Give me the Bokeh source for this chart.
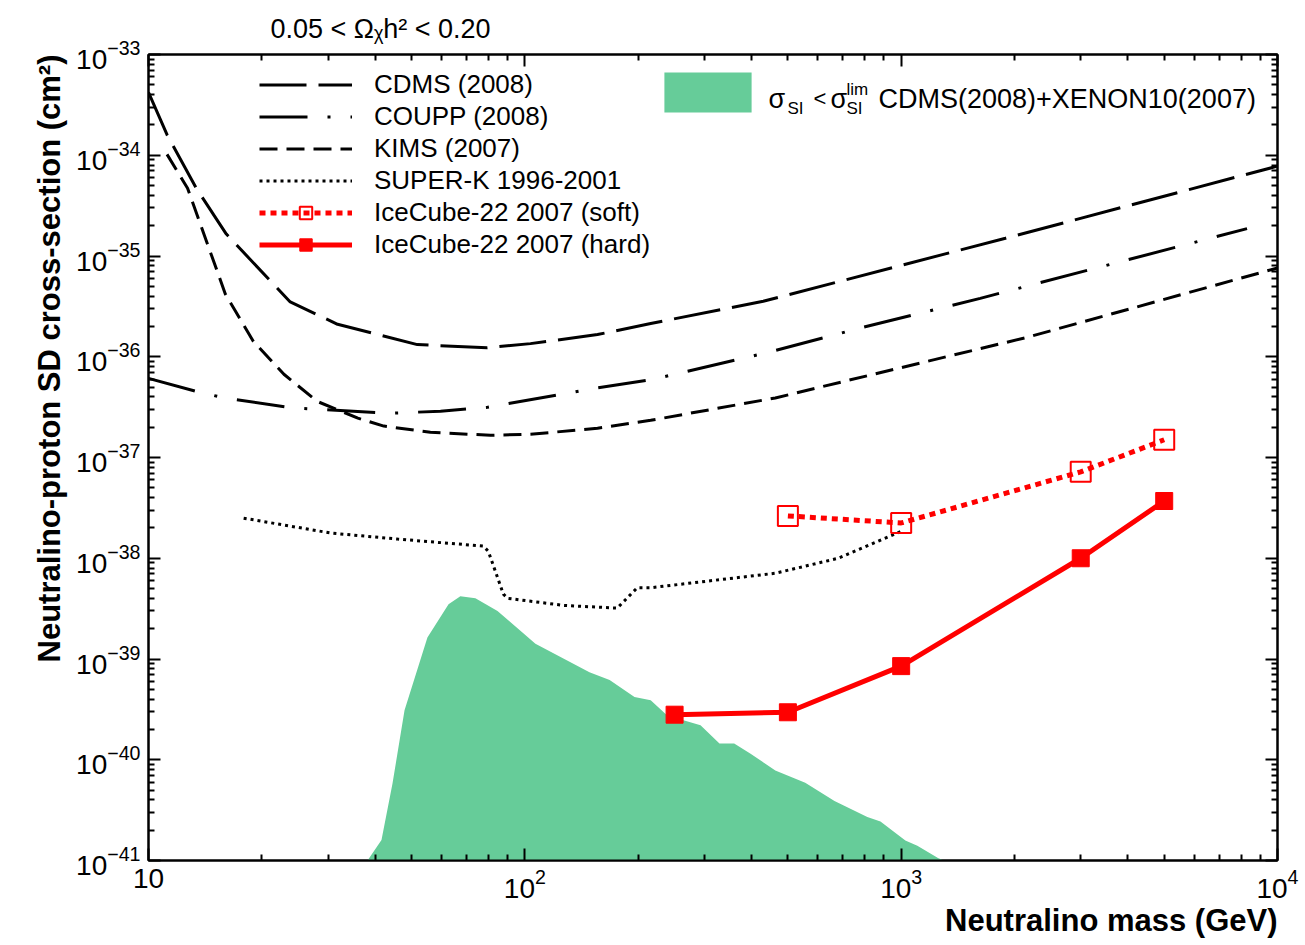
import numpy as np
from bokeh.plotting import figure
from bokeh.models import (LogAxis, FixedTicker, LogTickFormatter, CustomJSTickFormatter,
                          Legend, LegendItem, Label, Range1d, Title)
from bokeh.embed import file_html
from bokeh.resources import INLINE

# ---------------- data ----------------
cdms_mass = [10, 11.2, 13.4, 16.1, 23.8, 31.8, 51.8, 79.4, 103.5, 156, 216, 430, 1893, 10000]
cdms_sigma = [4.2e-34, 1.6e-34, 4.7e-35, 1.65e-35, 3.5e-36, 2.1e-36, 1.32e-36, 1.23e-36,
              1.35e-36, 1.66e-36, 2.14e-36, 3.55e-36, 1.5e-35, 7.8e-35]

coupp_mass = [10, 13.5, 15.9, 24.3, 44, 59.7, 79.6, 156, 216, 441, 775, 1622, 8300]
coupp_sigma = [6.1e-37, 4.5e-37, 3.9e-37, 3.1e-37, 2.75e-37, 2.88e-37, 3.15e-37, 4.9e-37,
               5.9e-37, 1.1e-36, 1.92e-36, 3.8e-36, 1.87e-35]

kims_mass = [11.2, 12.7, 16.0, 19.0, 22.9, 28.1, 36.0, 42.2, 56.1, 81, 103.5, 156, 216, 463,
             1000, 2148, 10000]
kims_sigma = [1.02e-34, 4.7e-35, 4.2e-36, 1.42e-36, 6.7e-37, 3.6e-37, 2.46e-37, 2.05e-37,
              1.78e-37, 1.66e-37, 1.7e-37, 1.95e-37, 2.34e-37, 3.9e-37, 7.8e-37, 1.55e-36, 7.6e-36]

superk_mass = [17.9, 30.5, 45.9, 77.6, 80, 87.7, 90, 127, 176, 199, 216, 463, 681, 1000]
superk_sigma = [2.5e-38, 1.78e-38, 1.55e-38, 1.32e-38, 1.17e-38, 4.4e-39, 4.0e-39, 3.4e-39,
                3.2e-39, 5.1e-39, 5.1e-39, 7.1e-39, 1.0e-38, 1.85e-38]

ic_soft_mass = [500, 1000, 3000, 5000]
ic_soft_sigma = [2.63e-38, 2.24e-38, 7.2e-38, 1.5e-37]

ic_hard_mass = [250, 500, 1000, 3000, 5000]
ic_hard_sigma = [2.8e-40, 2.96e-40, 8.5e-40, 1.0e-38, 3.7e-38]

si_mass = [38.2, 41.6, 44.5, 47.9, 55.1, 62.7, 67.4, 73.9, 84.6, 106.7, 148.5, 168, 195.6, 216,
           239, 293, 329, 360, 398, 463, 556, 665, 813, 881, 1026, 1104, 1256, 1300]
si_sigma = [1e-41, 1.6e-41, 5.8e-41, 3.1e-40, 1.63e-39, 3.5e-39, 4.2e-39, 4.0e-39, 3.0e-39,
            1.42e-39, 7.4e-40, 6.2e-40, 4.2e-40, 3.9e-40, 2.75e-40, 2.2e-40, 1.45e-40, 1.45e-40,
            1.15e-40, 7.8e-41, 5.9e-41, 3.9e-41, 2.7e-41, 2.44e-41, 1.58e-41, 1.4e-41, 1.05e-41, 1e-41]

x_tick_exps = [1, 2, 3, 4]
y_tick_exps = [-41, -40, -39, -38, -37, -36, -35, -34, -33]

legend_labels = ["CDMS (2008)", "COUPP (2008)", "KIMS (2007)", "SUPER-K 1996-2001",
                 "IceCube-22 2007 (soft)", "IceCube-22 2007 (hard)"]
title_text = "0.05 < Ωᵪh² < 0.20"
x_title = "Neutralino mass (GeV)"
y_title = "Neutralino-proton SD cross-section (cm²)"

FONT = "Liberation Sans"
GREEN = "#66CC99"
RED = "#FF0000"

x_major = [10.0 ** e for e in x_tick_exps]
x_minor = [k * 10.0 ** e for e in x_tick_exps[:-1] for k in range(2, 10)]
y_major = [10.0 ** e for e in y_tick_exps]
y_minor = [k * 10.0 ** e for e in y_tick_exps[:-1] for k in range(2, 10)]

p = figure(width=1305, height=945, x_axis_type="log", y_axis_type="log",
           x_range=Range1d(x_major[0], x_major[-1]), y_range=Range1d(y_major[0], y_major[-1]),
           output_backend="svg", toolbar_location=None,
           min_border_left=148, min_border_right=28, min_border_top=53, min_border_bottom=85,
           background_fill_color="white", border_fill_color="white", title=None)
p.grid.visible = False
p.outline_line_color = "black"
p.outline_line_width = 2


def style_axis(ax):
    ax.axis_line_width = 2
    ax.axis_line_color = "black"
    ax.major_tick_in = 12
    ax.major_tick_out = 0
    ax.minor_tick_in = 6
    ax.minor_tick_out = 0
    ax.major_tick_line_width = 2
    ax.minor_tick_line_width = 2
    ax.major_label_text_font = FONT
    ax.major_label_text_font_size = "28px"
    ax.major_label_text_color = "black"


xax = p.xaxis[0]
xax.ticker = FixedTicker(ticks=x_major, minor_ticks=x_minor)
xax.formatter = LogTickFormatter(min_exponent=1)
xax.major_label_overrides = {10: "10"}
xax.major_label_standoff = 8
style_axis(xax)

yax = p.yaxis[0]
yax.ticker = FixedTicker(ticks=y_major, minor_ticks=y_minor)
yax.formatter = LogTickFormatter()
yax.major_label_standoff = 8
style_axis(yax)

blank = CustomJSTickFormatter(code="return ''")
top_ax = LogAxis(ticker=FixedTicker(ticks=x_major, minor_ticks=x_minor), formatter=blank)
right_ax = LogAxis(ticker=FixedTicker(ticks=y_major, minor_ticks=y_minor), formatter=blank)
for ax in (top_ax, right_ax):
    style_axis(ax)
    ax.major_label_standoff = 0
    ax.major_label_text_font_size = "1px"
p.add_layout(top_ax, "above")
p.add_layout(right_ax, "right")

# titles (plot title and the two axis titles)
p.add_layout(Title(text=title_text, align="left", offset=122, standoff=22,
                   text_font=FONT, text_font_size="27px", text_font_style="normal",
                   text_color="black"), "above")
p.add_layout(Title(text=x_title, align="right", standoff=0,
                   text_font=FONT, text_font_size="31px", text_font_style="bold",
                   text_color="black"), "below")
p.add_layout(Title(text=y_title, align="right", standoff=14,
                   text_font=FONT, text_font_size="31px", text_font_style="bold",
                   text_color="black"), "left")

# ---------------- glyphs ----------------
r_si = p.varea(x=si_mass, y1=[1e-45] * len(si_mass), y2=si_sigma, fill_color=GREEN)

r_cdms = p.line(cdms_mass, cdms_sigma, line_color="black", line_width=3, line_dash="47 12")
r_coupp = p.line(coupp_mass, coupp_sigma, line_color="black", line_width=3, line_dash="48 20 3 20")
r_kims = p.line(kims_mass, kims_sigma, line_color="black", line_width=3, line_dash="18 9")
r_superk = p.line(superk_mass, superk_sigma, line_color="black", line_width=3, line_dash="3 4")

r_soft_l = p.line(ic_soft_mass, ic_soft_sigma, line_color=RED, line_width=5, line_dash="6 5")
r_soft_m = p.scatter(ic_soft_mass, ic_soft_sigma, marker="square", size=20,
                     line_color=RED, line_width=2, fill_color=None)
r_hard_l = p.line(ic_hard_mass, ic_hard_sigma, line_color=RED, line_width=5)
r_hard_m = p.scatter(ic_hard_mass, ic_hard_sigma, marker="square", size=17,
                     line_color=RED, fill_color=RED)

# ---------------- legends ----------------
leg = Legend(items=[
    LegendItem(label=legend_labels[0], renderers=[r_cdms]),
    LegendItem(label=legend_labels[1], renderers=[r_coupp]),
    LegendItem(label=legend_labels[2], renderers=[r_kims]),
    LegendItem(label=legend_labels[3], renderers=[r_superk]),
    LegendItem(label=legend_labels[4], renderers=[r_soft_l, r_soft_m]),
    LegendItem(label=legend_labels[5], renderers=[r_hard_l, r_hard_m]),
], location=(111, 600), glyph_width=93, glyph_height=31, label_height=31, label_standoff=22,
    spacing=1, padding=0, margin=0, border_line_color=None, background_fill_alpha=0,
    label_text_font=FONT, label_text_font_size="26px", label_text_color="black")
p.add_layout(leg)

leg2 = Legend(items=[LegendItem(label=" ", renderers=[r_si])], location=(505, 743),
              glyph_width=109, glyph_height=50, label_height=50, label_standoff=0,
              padding=0, margin=0, border_line_color=None, background_fill_alpha=0,
              label_text_font_size="2px")
p.add_layout(leg2)

X0, Y1 = x_major[0], y_major[-1]


def txt(text, dx, dy, size):
    p.add_layout(Label(x=X0, y=Y1, x_offset=dx, y_offset=dy, text=text, text_font=FONT,
                       text_font_size=f"{size}px", text_align="left",
                       text_baseline="alphabetic", text_color="black"))


# legend text for the green band: sigma_SI < sigma_SI^lim ...
txt("σ", 620, -44, 27)
txt("SI", 639, -54, 17)
txt("<", 665, -44, 22)
txt("σ", 682, -44, 27)
txt("lim", 698, -35, 17)
txt("SI", 698, -54, 17)
txt("CDMS(2008)+XENON10(2007)", 730, -44, 27)

open("out.html", "w").write(file_html(p, INLINE))
